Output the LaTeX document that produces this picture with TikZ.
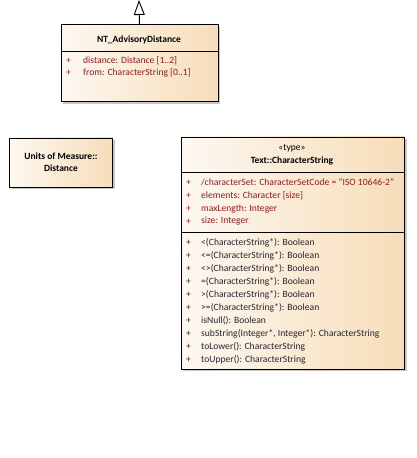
\documentclass[tikz,border=0pt]{standalone}
\usepackage{fontspec}
\setmainfont{Carlito}
\usetikzlibrary{positioning,arrows.meta,shadows}

\definecolor{fillL}{HTML}{FDF8F1}
\definecolor{fillR}{HTML}{F7DDB9}
\definecolor{attrred}{HTML}{8E1E1E}
\definecolor{opgray}{HTML}{262630}

\tikzset{
  umlbox/.style={draw,line width=0.9pt,left color=fillL,right color=fillR,
    anchor=north west,inner sep=0pt,
    drop shadow={shadow xshift=2.5pt,shadow yshift=-2.5pt,fill=black!22,opacity=1}},
  sepline/.style={line width=0.9pt},
  umltitle/.style={font=\fontsize{9.5}{11}\selectfont\bfseries,inner sep=0pt,align=center},
  plusmark/.style={inner sep=0pt,anchor=west},
  member/.style={inner sep=0pt,anchor=west},
  generalize/.style={line width=0.9pt,-{Triangle[open,length=15pt,width=11pt,fill=fillL]}}
}

\begin{document}
\begin{tikzpicture}[x=1pt,y=-1pt,font=\fontsize{9.6}{11}\selectfont]
\useasboundingbox (0,0) rectangle (416,458);

% NT_AdvisoryDistance
\node[umlbox,minimum width=157pt,minimum height=77pt] (adv) at (60.5,24) {};
\coordinate (parent) at (139,0);
\draw[generalize] (adv.north) -- (parent);
\node[umltitle] (advname) at (139,39.5) {NT\_AdvisoryDistance};
\draw[sepline] (60.5,51) -- (217.5,51);
\node[plusmark,attrred] (advp1) at (66,61) {+};
\node[member,attrred] (adva1) at (83,61) {distance: Distance [1..2]};
\node[plusmark,attrred] (advp2) at (66,73) {+};
\node[member,attrred] (adva2) at (83,73) {from: CharacterString [0..1]};

% Units of Measure::Distance
\node[umlbox,minimum width=103pt,minimum height=49pt] (dist) at (9,137.5) {};
\node[umltitle] (distname) at (dist.center) {Units of Measure::\\[1pt]Distance};

% Text::CharacterString
\node[umlbox,minimum width=223.5pt,minimum height=232pt] (cs) at (180.5,136.5) {};
\node[inner sep=0pt] (csstereo) at (292,148) {«type»};
\node[umltitle] (csname) at (292,160.5) {Text::CharacterString};
\draw[sepline] (180.5,172.5) -- (404,172.5);
\foreach \t [count=\i from 0] in {/characterSet: CharacterSetCode = "ISO 10646-2",
    elements: Character [size], maxLength: Integer, size: Integer}{
  \node[plusmark,attrred] (csp\i) at (186,182.7+12.9*\i) {+};
  \node[member,attrred] (csa\i) at (201,182.7+12.9*\i) {\t};
}
\draw[sepline] (180.5,232.5) -- (404,232.5);
\foreach \t [count=\i from 0] in {<(CharacterString*): Boolean, <=(CharacterString*): Boolean,
    <>(CharacterString*): Boolean, =(CharacterString*): Boolean,
    >(CharacterString*): Boolean, >=(CharacterString*): Boolean, isNull(): Boolean,
    {subString(Integer*, Integer*): CharacterString},
    toLower(): CharacterString, toUpper(): CharacterString}{
  \node[plusmark,opgray] (cso\i) at (186,243.3+12.9*\i) {+};
  \node[member,opgray] (csm\i) at (201,243.3+12.9*\i) {\t};
}
\end{tikzpicture}
\end{document}
